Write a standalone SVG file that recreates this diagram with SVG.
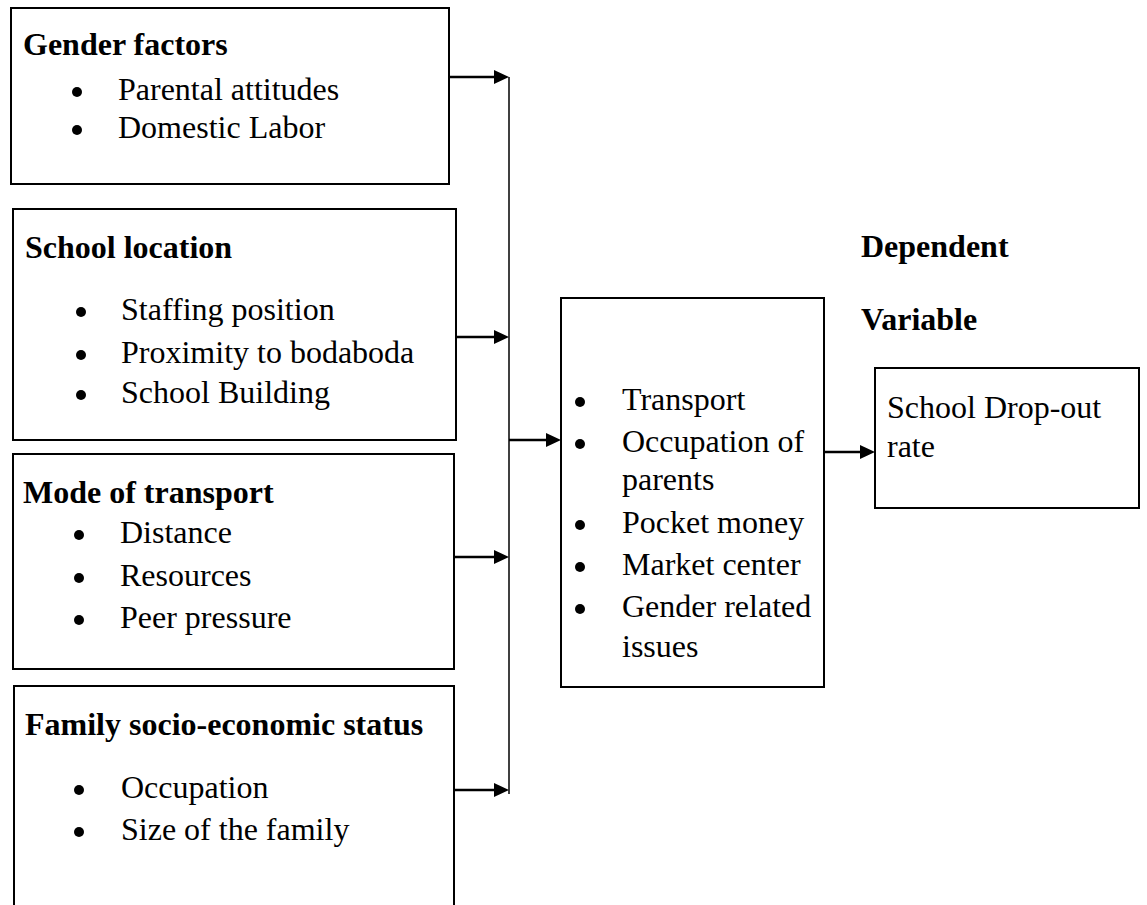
<svg xmlns="http://www.w3.org/2000/svg" width="1147" height="905" viewBox="0 0 1147 905">
<style>
.box{fill:#fff;stroke:#000;stroke-width:2}
.t{font-family:"Liberation Serif","Times New Roman",serif;font-size:32px;fill:#000}
.b{font-weight:bold}
.dot{fill:#000}
.conn{stroke:#000;stroke-width:2.5;fill:none}
.head{fill:#000}
.vline{stroke:#000;stroke-width:1.5;fill:none}
</style>
<g id="connectors">
<line class="vline" x1="509" y1="77" x2="509" y2="794"/>
<line class="conn" x1="449" y1="77" x2="496" y2="77"/>
<polygon class="head" points="494,70 509,77 494,84"/>
<line class="conn" x1="456" y1="337" x2="496" y2="337"/>
<polygon class="head" points="494,330 509,337 494,344"/>
<line class="conn" x1="454" y1="557" x2="496" y2="557"/>
<polygon class="head" points="494,550 509,557 494,564"/>
<line class="conn" x1="454" y1="790" x2="496" y2="790"/>
<polygon class="head" points="494,783 509,790 494,797"/>
<line class="conn" x1="509" y1="440" x2="548" y2="440"/>
<polygon class="head" points="546,433 561,440 546,447"/>
<line class="conn" x1="824" y1="452" x2="862" y2="452"/>
<polygon class="head" points="860,445 875,452 860,459"/>
</g>
<g id="gender-factors">
<rect class="box" x="11" y="8" width="438" height="176"/>
<text class="t b" x="23" y="55">Gender factors</text>
<circle class="dot" cx="77" cy="92" r="5"/>
<text class="t" x="118" y="100">Parental attitudes</text>
<circle class="dot" cx="77" cy="130" r="5"/>
<text class="t" x="118" y="138">Domestic Labor</text>
</g>
<g id="school-location">
<rect class="box" x="13" y="209" width="443" height="231"/>
<text class="t b" x="25" y="258">School location</text>
<circle class="dot" cx="81" cy="312" r="5"/>
<text class="t" x="121" y="320">Staffing position</text>
<circle class="dot" cx="81" cy="355" r="5"/>
<text class="t" x="121" y="363">Proximity to bodaboda</text>
<circle class="dot" cx="81" cy="395" r="5"/>
<text class="t" x="121" y="403">School Building</text>
</g>
<g id="mode-of-transport">
<rect class="box" x="13" y="454" width="441" height="215"/>
<text class="t b" x="23" y="503">Mode of transport</text>
<circle class="dot" cx="79" cy="535" r="5"/>
<text class="t" x="120" y="543">Distance</text>
<circle class="dot" cx="79" cy="578" r="5"/>
<text class="t" x="120" y="586">Resources</text>
<circle class="dot" cx="79" cy="620" r="5"/>
<text class="t" x="120" y="628">Peer pressure</text>
</g>
<g id="family-ses">
<rect class="box" x="14" y="686" width="440" height="230"/>
<text class="t b" x="25" y="735">Family socio-economic status</text>
<circle class="dot" cx="79" cy="790" r="5"/>
<text class="t" x="121" y="798">Occupation</text>
<circle class="dot" cx="79" cy="832" r="5"/>
<text class="t" x="121" y="840">Size of the family</text>
</g>
<g id="intervening">
<rect class="box" x="561" y="298" width="263" height="389"/>
<circle class="dot" cx="580" cy="402" r="5"/>
<text class="t" x="622" y="410">Transport</text>
<circle class="dot" cx="580" cy="444" r="5"/>
<text class="t" x="622" y="452">Occupation of</text>
<text class="t" x="622" y="490">parents</text>
<circle class="dot" cx="580" cy="525" r="5"/>
<text class="t" x="622" y="533">Pocket money</text>
<circle class="dot" cx="580" cy="567" r="5"/>
<text class="t" x="622" y="575">Market center</text>
<circle class="dot" cx="580" cy="609" r="5"/>
<text class="t" x="622" y="617">Gender related</text>
<text class="t" x="622" y="657">issues</text>
</g>
<g id="dependent-label">
<text class="t b" x="861" y="257">Dependent</text>
<text class="t b" x="861" y="330">Variable</text>
</g>
<g id="dropout">
<rect class="box" x="875" y="368" width="264" height="140"/>
<text class="t" x="887" y="418">School Drop-out</text>
<text class="t" x="887" y="457">rate</text>
</g>
</svg>
